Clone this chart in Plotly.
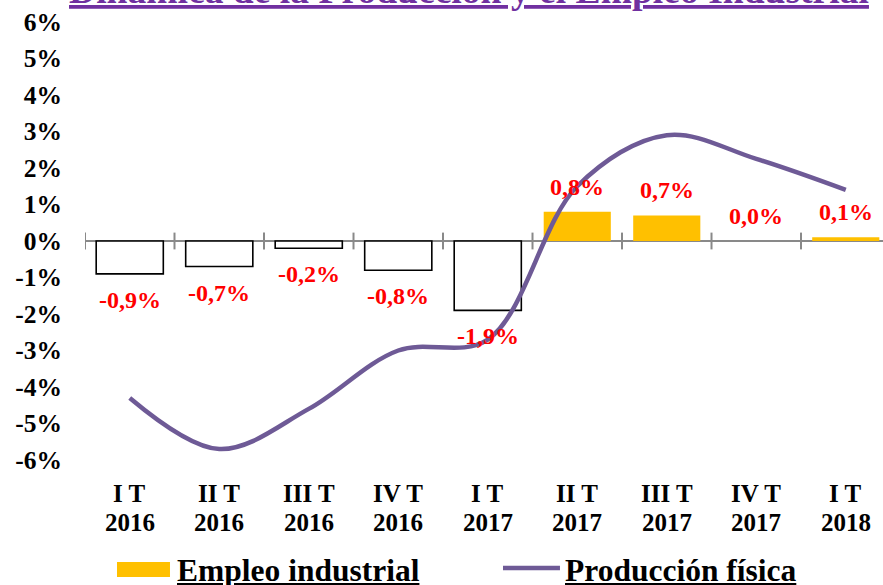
import plotly.graph_objects as go

quarters = ["I T", "II T", "III T", "IV T", "I T", "II T", "III T", "IV T", "I T"]
years = ["2016", "2016", "2016", "2016", "2017", "2017", "2017", "2017", "2018"]
empleo = [-0.9, -0.7, -0.2, -0.8, -1.9, 0.8, 0.7, 0.0, 0.1]
produccion = [-4.3, -5.7, -4.6, -3.0, -2.7, 1.5, 2.9, 2.25, 1.4]
y_tick_values = [-6, -5, -4, -3, -2, -1, 0, 1, 2, 3, 4, 5, 6]
y_tick_labels = ["-6%", "-5%", "-4%", "-3%", "-2%", "-1%", "0%", "1%", "2%", "3%", "4%", "5%", "6%"]
title_text = "Dinámica de la Producción y el Empleo Industrial"
legend_names = ["Empleo industrial", "Producción física"]

FONT = "Liberation Serif"
GOLD = "#FFC000"
PURPLE = "#6E5A96"
GREY = "#898989"

xs = list(range(len(quarters)))
boundaries = [i - 0.5 for i in xs]

fig = go.Figure()

fig.add_trace(go.Bar(
    x=xs, y=empleo,
    marker=dict(
        color=["white" if v < 0 else GOLD for v in empleo],
        line=dict(color=["black" if v < 0 else GOLD for v in empleo],
                  width=[1.6 if v < 0 else 0 for v in empleo]),
    ),
    width=0.75, showlegend=False, hoverinfo="skip",
))

# category boundary tick marks on the zero line
fig.add_trace(go.Scatter(
    x=boundaries, y=[0] * len(boundaries), mode="markers",
    marker=dict(symbol="line-ns", size=12, line=dict(color=GREY, width=2)),
    showlegend=False, hoverinfo="skip",
))

fig.add_trace(go.Scatter(
    x=xs, y=produccion, mode="lines",
    line=dict(color=PURPLE, width=4.5, shape="spline", smoothing=1.0),
    showlegend=False, hoverinfo="skip",
))

# data labels
for x, v in zip(xs, empleo):
    txt = f"{v:.1f}%".replace(".", ",")
    fig.add_annotation(
        x=x, y=v, xref="x", yref="y", text=txt, showarrow=False,
        yanchor="middle", yshift=(-26 if v < 0 else 25),
        font=dict(family=FONT, size=24, color="#FF0000", weight="bold"),
    )

# two-line category labels
tick_font = dict(family=FONT, size=25, color="black", weight="bold")
for x, q, yr in zip(xs, quarters, years):
    fig.add_annotation(x=x, y=0, xref="x", yref="paper", text=q, showarrow=False,
                       yanchor="middle", yshift=-33, font=tick_font)
    fig.add_annotation(x=x, y=0, xref="x", yref="paper", text=yr, showarrow=False,
                       yanchor="middle", yshift=-62, font=tick_font)

# title (cut off at the top as in reference)
fig.add_annotation(
    x=0.4806, y=1, xref="paper", yref="paper", xanchor="center", yanchor="bottom",
    yshift=9, showarrow=False, text=title_text,
    font=dict(family=FONT, size=37.6, color="#7030A0", weight="bold", lineposition="under"),
)

# manual legend
legend_font = dict(family=FONT, size=31.5, color="black", weight="bold", lineposition="under")
fig.add_shape(type="rect", xref="paper", yref="paper",
              x0=0.0401, x1=0.1065, y0=-0.267, y1=-0.2329,
              fillcolor=GOLD, line=dict(width=0))
fig.add_annotation(
    x=0.1128, y=-0.2534, xref="paper", yref="paper", xanchor="left", yanchor="middle",
    showarrow=False, text=legend_names[0], font=legend_font,
)
fig.add_shape(type="line", xref="paper", yref="paper",
              x0=0.5238, x1=0.5952, y0=-0.2466, y1=-0.2466,
              line=dict(color=PURPLE, width=4.5))
fig.add_annotation(
    x=0.599, y=-0.2534, xref="paper", yref="paper", xanchor="left", yanchor="middle",
    showarrow=False, text=legend_names[1], font=legend_font,
)

fig.update_layout(
    width=883, height=585,
    margin=dict(l=85, r=0, t=22, b=125),
    paper_bgcolor="white", plot_bgcolor="white",
    bargap=0.25,
    xaxis=dict(
        range=[-0.5, 8.416], showticklabels=False,
        showgrid=False, zeroline=False, showline=False, ticks="",
    ),
    yaxis=dict(
        range=[-6, 6], tickvals=y_tick_values, ticktext=y_tick_labels,
        showgrid=False, zeroline=True, zerolinecolor=GREY, zerolinewidth=2,
        showline=False, ticks="",
        tickfont=dict(family=FONT, size=25.5, color="black", weight="bold"),
        ticklabelstandoff=22,
    ),
)

fig.write_html("out.html", config={"displayModeBar": False},
               post_script="document.body.style.margin='0';document.body.style.overflow='hidden';")
